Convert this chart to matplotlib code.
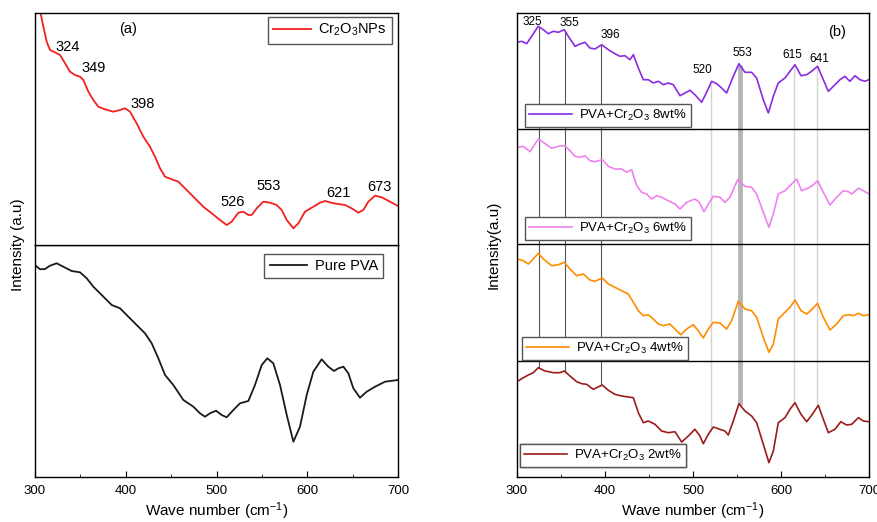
import numpy as np
import matplotlib
matplotlib.use("Agg")
import matplotlib.pyplot as plt
from matplotlib.ticker import MultipleLocator

plt.rcParams['font.family'] = ['Liberation Sans', 'DejaVu Sans']
plt.rcParams['mathtext.fontset'] = 'custom'
plt.rcParams['mathtext.rm'] = 'Liberation Sans'
plt.rcParams['mathtext.it'] = 'Liberation Sans:italic'
plt.rcParams['lines.solid_joinstyle'] = 'round'

# ---------------- data (a) ----------------
cr2o3_x = [300, 305.5, 309.2, 312.9, 316.5, 322, 327.6, 333.1, 338.6, 344.1, 349.6, 353.3, 358.8,
           364.3, 369.8, 377.1, 386.3, 393.7, 399.2, 404.7, 412, 419.4, 426.7, 432.2, 437.8,
           443.3, 450.6, 458, 465.3, 474.5, 485.5, 494.7, 503.9, 511.2, 516.7, 524.1, 529.6,
           535.1, 538.8, 544.3, 551.6, 559, 566.3, 571.8, 577.4, 584.7, 590.2, 597.5, 606.7,
           614.1, 619.6, 628.8, 641.6, 648.9, 656.3, 661.8, 667.3, 674.7, 682, 691.2, 700]
cr2o3_y = [262, 235, 218.3, 203.3, 195, 192.7, 190, 181.7, 173.3, 170, 168.3, 165, 153.3, 145,
           138.3, 135.7, 133.3, 135, 136.7, 133.3, 121.7, 108.3, 98.3, 88.3, 76.7, 68.3, 65.7,
           63.3, 56.7, 48.3, 38.3, 31.7, 25, 20, 23.3, 32.3, 33.3, 30, 30, 36.7, 43.3, 42.3, 40,
           35, 25, 16.7, 21.7, 33.3, 38.3, 42.3, 44, 41.7, 40, 36.7, 32.3, 35, 43.3, 49.3, 47.7,
           43.3, 39]

pva_x = [300, 305.5, 311, 316.5, 323.9, 331.2, 340.4, 349.6, 357, 364.3, 373.5, 384.5, 393.7,
         401, 412, 421.2, 428.6, 435.9, 443.3, 452.4, 463.5, 474.5, 481.8, 487.3, 492.8, 499.5,
         505.7, 511.2, 518.6, 525.9, 535.1, 542.4, 549.8, 556, 562.6, 570, 577.4, 584.7, 592,
         599.4, 606.7, 615.9, 623.2, 629.5, 634.3, 639.8, 645.3, 650.8, 658.1, 665.5, 674.7,
         685.7, 700]
pva_y = [212, 207.7, 208, 211.3, 213.7, 210.3, 206, 204.7, 198.7, 190.3, 182, 172, 168.7, 162,
         152, 143.7, 133.7, 118.7, 102, 92, 77, 70.3, 63.7, 60.3, 63.7, 66.3, 62, 59.7, 67, 73.7,
         76, 92, 112, 118.7, 113.7, 92, 62, 35.3, 50.3, 82, 105.3, 117.7, 110.3, 106, 108.7,
         110.3, 103.7, 88.7, 79.3, 85.3, 90.3, 95.3, 97]

a_peaks = ['324', '349', '398', '526', '553', '621', '673']

# ---------------- data (b) ----------------
w8_x = [300, 305.3, 311, 316.6, 324.2, 329.9, 335.6, 341.3, 346.9, 353.8, 358.3, 365.9, 371.6,
        377.2, 382.9, 388.6, 396.2, 403.8, 411.3, 417, 422.7, 428.4, 432.2, 437.9, 443.5, 449.2,
        454.9, 460.6, 466.3, 471.9, 477.6, 485.2, 490.9, 496.6, 502.2, 509.8, 515.5, 521.2,
        526.9, 532.5, 538.2, 545.8, 552.2, 559.1, 566.6, 572.3, 579.9, 585.6, 591.3, 596.9,
        604.5, 610.2, 615.9, 622.7, 629.2, 634.8, 641.6, 648.1, 653.8, 661.3, 667, 672.6, 678.3,
        684.1, 689.7, 695.4, 700]
w8_y = [86.7, 87.7, 85.3, 92.7, 102.7, 99.3, 95.3, 97.7, 96.7, 99.3, 92.7, 82.7, 85, 86.7, 81,
        80, 84.3, 79.3, 75.3, 72.7, 73.3, 69.3, 74.3, 61, 49.3, 49.3, 46, 47.7, 44.3, 46, 44.3,
        33.3, 36, 38.7, 34.3, 26.7, 36.7, 47.7, 45.3, 41, 36, 52.7, 65.3, 56.7, 56.7, 51, 29.3,
        16, 32.7, 46, 51, 57.7, 64.3, 53.3, 54.3, 57.7, 62.7, 49.3, 37.7, 44.3, 49.3, 52.7,
        47.7, 53.3, 49.3, 47.7, 49.3]

w6_x = [300, 307.2, 314.7, 324.2, 329.9, 339.4, 347, 354.5, 360.2, 365.9, 371.6, 377.2, 382.9,
        388.6, 396.9, 403.8, 411.3, 418.9, 424.6, 430.3, 436, 441.6, 447.3, 453, 458.7, 464.3,
        471.9, 479.5, 485.2, 492.8, 502.2, 507.2, 512.5, 517.4, 523.1, 530.6, 536.3, 542,
        550.7, 559.1, 566.6, 572.3, 579.9, 586.3, 591.3, 596.9, 604.5, 610.2, 617.8, 623.5,
        630.3, 635.6, 641.6, 648.1, 655.7, 663.2, 670.8, 676.5, 680.3, 687.9, 693.5, 700]
w6_y = [96.7, 97.7, 92.3, 105, 101.7, 95.7, 97.7, 98.3, 93.3, 87.7, 86.7, 88.3, 83.3, 82.3,
        84.3, 77.7, 75, 75, 71.7, 74.3, 58.3, 51.7, 50, 45, 48.3, 46.7, 43.3, 40, 35, 41.7, 45,
        41.7, 32.3, 40, 47.7, 46.7, 41.7, 46.7, 64.3, 57.7, 56.7, 50, 31.7, 16.7, 30, 50, 53.3,
        58.3, 65, 53.3, 55.7, 58.3, 63.3, 51.7, 39, 46.7, 53.3, 52.3, 50, 55.7, 53.3, 50]

w4_x = [300, 307.2, 312.9, 318.5, 324.2, 329.9, 339.4, 347, 353.8, 360.2, 367.8, 375.4, 382.9,
        388.6, 396.9, 403.8, 411.3, 418.9, 426.5, 432.2, 437.9, 443.5, 449.2, 454.9, 460.6,
        466.3, 473.8, 479.5, 486, 492.8, 500.3, 506, 511.7, 517.4, 523.1, 530.6, 538.2, 543.9,
        551.5, 559.1, 566.6, 572.3, 579.9, 586.3, 591.3, 596.9, 604.5, 610.2, 615.9, 622.7,
        629.2, 635.6, 641.6, 648.1, 655.7, 663.2, 670.8, 676.5, 682.2, 687.9, 693.5, 700]
w4_y = [102, 100.3, 97, 102, 107.7, 102, 95.3, 96.3, 98.7, 92, 85.3, 87, 81, 79.7, 83, 77, 73.7,
        70.3, 67, 58.7, 50.3, 45.3, 46.3, 42, 37, 35.3, 37, 32, 26.3, 32, 36.3, 30.3, 23, 32,
        38.7, 38, 32, 40.3, 59.7, 52, 50.3, 43.7, 23.7, 8.7, 17, 42, 48.7, 53.7, 61, 50.3, 47,
        52, 57.7, 43.7, 31, 37, 45.3, 46.3, 45.3, 47.7, 45.3, 46.3]

w2_x = [300, 307.2, 312.9, 318.5, 324.2, 331.8, 341.3, 348.8, 353.8, 360.2, 367.8, 373.5, 379.1,
        386.7, 396.9, 403.8, 411.3, 418.9, 426.5, 432.2, 437.9, 443.5, 449.2, 456.8, 464.3,
        471.9, 479.5, 487.1, 494.7, 502.2, 507.9, 511.7, 517.4, 523.1, 530.6, 536.3, 540.1,
        545.8, 552.2, 559.1, 566.6, 572.3, 579.9, 586.3, 591.3, 596.9, 604.5, 610.2, 615.9,
        622.7, 629.2, 635.6, 642.4, 648.1, 653.8, 661.3, 668, 674.4, 680.3, 687.9, 693.5, 700]
w2_y = [95.3, 99.3, 102, 104.3, 109.3, 106, 104.3, 104.3, 106, 101, 95.3, 93.3, 92.7, 87.7, 92,
        86.7, 82.7, 81, 80, 79.3, 64.3, 54.3, 56, 52.7, 46, 44.3, 45.3, 35, 41, 47.7, 41, 33.3,
        42.7, 50, 47.7, 46, 42, 56, 73.3, 66, 61, 54.3, 32.7, 14.3, 26, 54.3, 59.3, 67.7, 74.3,
        62.7, 55.3, 62.7, 71.7, 57.7, 44.3, 47.7, 55.3, 52, 52.7, 59.3, 56, 55.3]

b_peaks = [325, 355, 396, 520, 553, 615, 641]
b_labels = ['8wt%', '6wt%', '4wt%', '2wt%']

# ---------------- figure ----------------
fig = plt.figure(figsize=(8.78, 5.22), dpi=100)
L0, LW = 35 / 878, 363 / 878
R0, RW = 517 / 878, 352 / 878
B0 = 45 / 522
PH = 232 / 522

axa2 = fig.add_axes([L0, B0, LW, PH])
axa1 = fig.add_axes([L0, B0 + PH, LW, PH])

for ax in (axa1, axa2):
    ax.set_xlim(300, 700)
    ax.set_ylim(0, 232)
    ax.set_yticks([])
    for s in ax.spines.values():
        s.set_linewidth(1.0)

axa1.plot(cr2o3_x, cr2o3_y, color='#f42020', lw=1.3, label='Cr$_2$O$_3$NPs')
axa2.plot(pva_x, pva_y, color='#1a1a1a', lw=1.3, label='Pure PVA')

axa1.set_xticks([])
axa2.xaxis.set_major_locator(MultipleLocator(100))
axa2.xaxis.set_minor_locator(MultipleLocator(50))
axa2.tick_params(axis='x', which='major', direction='in', length=4, labelsize=9.5, pad=6)
axa2.tick_params(axis='x', which='minor', direction='in', length=2.5)

leg_kw = dict(fancybox=False, edgecolor='#555555', framealpha=1, borderaxespad=0,
              handlelength=2.6, borderpad=0.35, handletextpad=0.5)
axa1.legend(loc='upper right', bbox_to_anchor=(0.983, 0.983), fontsize=10.5, **leg_kw)
axa2.legend(loc='upper right', bbox_to_anchor=(0.959, 0.961), fontsize=10.5, **leg_kw)

a_pos = [(336, 198), (365, 177), (419, 141), (518, 43), (557, 59), (634, 52), (680, 58)]
for lab, (px, py) in zip(a_peaks, a_pos):
    axa1.text(px, py, lab, ha='center', va='center', fontsize=10.5)
axa1.text(0.256, 0.931, '(a)', transform=axa1.transAxes, ha='center', va='center', fontsize=10.5)

axa2.set_xlabel('Wave number (cm$^{-1}$)', fontsize=11, labelpad=2)
fig.text(0.021, B0 + PH, 'Intensity (a.u)', rotation=90, ha='center', va='center', fontsize=11)

# ---------------- panel (b) ----------------
axb = fig.add_axes([R0, B0, RW, 2 * PH])
axb.set_xlim(300, 700)
axb.set_ylim(0, 464)
axb.set_yticks([])
for s in axb.spines.values():
    s.set_linewidth(1.0)
axb.xaxis.set_major_locator(MultipleLocator(100))
axb.xaxis.set_minor_locator(MultipleLocator(50))
axb.tick_params(axis='x', which='major', direction='in', length=4, labelsize=9.5, pad=6)
axb.tick_params(axis='x', which='minor', direction='in', length=2.5)

series = [(w8_x, w8_y, '#8a2be2', 348), (w6_x, w6_y, '#ee82ee', 233),
          (w4_x, w4_y, '#ff8c00', 116), (w2_x, w2_y, '#9b1c1c', 0)]

for off in (116, 233, 348):
    axb.axhline(off, color='black', lw=1.0, zorder=3)

# reference lines from bottom-curve peak to top-curve peak
for p in b_peaks:
    ytop = np.interp(p, w8_x, w8_y) + 348
    ybot = np.interp(p, w2_x, w2_y)
    if p in (325, 355, 396):
        c, lw = '#555555', 0.8
    elif p == 553:
        c, lw = '#b5b5b5', 3.5
    else:
        c, lw = '#d3d3d3', 1.0
    axb.vlines(p, ybot, ytop, colors=c, lw=lw, zorder=1)

leg_anchor = [(0.0227, 0.754), (0.0227, 0.511), (0.0142, 0.252), (0.0085, 0.0216)]
for (xs, ys, col, off), lab, anc in zip(series, b_labels, leg_anchor):
    line, = axb.plot(xs, np.array(ys) + off, color=col, lw=1.2, zorder=2,
                     label='PVA+Cr$_2$O$_3$ ' + lab)
    lg = axb.legend(handles=[line], loc='lower left', bbox_to_anchor=anc, fontsize=9.5,
                    fancybox=False, edgecolor='#555555', framealpha=1, borderaxespad=0,
                    handlelength=3.3, borderpad=0.3, handletextpad=0.5)
    lg.set_zorder(4)
    axb.add_artist(lg)

b_pos = [(317, 455), (359, 454), (405.7, 442), (511, 407), (555.7, 424), (612.5, 422), (644, 418)]
for lab, (px, py) in zip(b_peaks, b_pos):
    axb.text(px, py, str(lab), ha='center', va='center', fontsize=8.5)
axb.text(0.909, 0.959, '(b)', transform=axb.transAxes, ha='center', va='center', fontsize=10.5)

axb.set_xlabel('Wave number (cm$^{-1}$)', fontsize=11, labelpad=2)
fig.text(0.5626, B0 + PH, 'Intensity(a.u)', rotation=90, ha='center', va='center', fontsize=11)

fig.savefig('out.png', dpi=100, facecolor='white')
